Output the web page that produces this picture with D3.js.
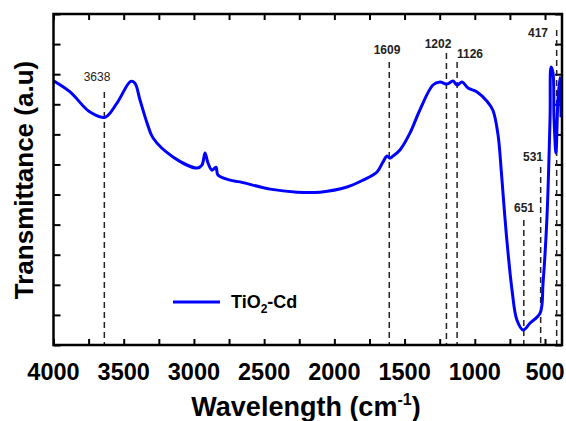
<!DOCTYPE html>
<html lang="en">
<head>
    <meta charset="UTF-8">
    <title>FTIR TiO2-Cd</title>
    <style>
        body { margin: 0; background: #fff; }
        text { font-family: Arial, "Liberation Sans", sans-serif; }
    </style>
</head>
<body>
    <div id="chart"></div>
    <script src="https://d3js.org/d3.v7.min.js"></script>
    <script>
        // spectrum (wavenumber in cm-1, transmittance in a.u.)
        var wavenumbers = [4000, 3882, 3740, 3633, 3548, 3450, 3420, 3384, 3334, 3291, 3149, 2978, 2943, 2921,
            2900, 2871, 2843, 2829, 2743, 2672, 2458, 2266, 2102, 1910, 1796, 1696, 1654, 1625, 1604, 1590,
            1533, 1462, 1391, 1298, 1248, 1198, 1155, 1127, 1091, 1048, 984, 913, 871, 835, 810, 790, 770,
            735, 700, 656, 606, 535, 514, 486, 464, 457, 443, 436, 422, 408, 393, 386];
        var transmittance = [87.8, 84.1, 77.4, 75.7, 80.4, 87.6, 87.0, 81.4, 73.8, 68.8, 62.5, 58.8, 59.8, 63.8,
            60.5, 58.1, 59.1, 56.5, 54.8, 54.2, 51.8, 50.8, 50.8, 52.5, 54.8, 57.5, 60.8, 62.8, 62.1, 62.5,
            64.8, 70.4, 78.1, 86.4, 87.4, 86.7, 87.7, 86.4, 87.4, 85.4, 84.1, 81.0, 78.0, 70.0, 57.0, 45.0, 34.0,
            18.3, 8.3, 5.0, 7.3, 10.6, 20.6, 42.5, 75.7, 92.4, 90.4, 75.7, 63.8, 81.4, 89.0, 75.7];

        // marked bands
        var bands = [3638, 1609, 1202, 1126, 651, 531, 417];
        var bandTop = [92, 62, 53, 62, 220, 167, 30];       // page y where each dashed line starts
        var xTickLabels = [4000, 3500, 3000, 2500, 2000, 1500, 1000, 500];

        var W = 566, H = 421;
        var margin = {top: 14, right: 4, bottom: 76, left: 53.5},
            width = W - margin.left - margin.right,
            height = H - margin.top - margin.bottom;

        var svg = d3.select('#chart').append('svg')
            .attr('width', W).attr('height', H)
            .append('g')
            .attr('transform', 'translate(' + margin.left + ',' + margin.top + ')');

        var x = d3.scaleLinear().domain([4000, 379]).range([0, width]);
        var y = d3.scaleLinear().domain([0, 110]).range([height, 0]);

        var minorX = d3.range(4000, 379, -250);
        var yTicks = d3.range(0, 111, 10);

        // inward ticks on all four sides
        svg.append('g').attr('transform', 'translate(0,' + height + ')')
            .call(d3.axisBottom(x).tickValues(minorX).tickSize(-6).tickFormat(''));
        svg.append('g')
            .call(d3.axisTop(x).tickValues(minorX).tickSize(-6).tickFormat(''));
        svg.append('g')
            .call(d3.axisLeft(y).tickValues(yTicks).tickSize(-7).tickFormat(''));
        svg.append('g').attr('transform', 'translate(' + width + ',0)')
            .call(d3.axisRight(y).tickValues(yTicks).tickSize(-7).tickFormat(''));
        svg.selectAll('.domain').remove();
        svg.selectAll('.tick line').attr('stroke', '#000').attr('stroke-width', 2);

        // tick labels
        svg.append('g').selectAll('text')
            .data(xTickLabels).enter().append('text')
            .attr('x', d => x(d))
            .attr('y', 380 - margin.top)
            .attr('text-anchor', 'middle')
            .style('font-size', '23.5px').style('font-weight', 'bold')
            .text(d => d);

        // dashed band markers
        svg.append('g').selectAll('line')
            .data(bands).enter().append('line')
            .attr('x1', d => x(d)).attr('x2', d => x(d))
            .attr('y1', (d, i) => bandTop[i] - margin.top)
            .attr('y2', height)
            .attr('stroke', '#222').attr('stroke-width', 1.5)
            .attr('stroke-dasharray', '6,4');

        var bandLabels = [
            {t: '3638', cx: 97, by: 81, bold: false},
            {t: '1609', cx: 387, by: 54, bold: true},
            {t: '1202', cx: 438, by: 48, bold: true},
            {t: '1126', cx: 470, by: 58, bold: true},
            {t: '651', cx: 524, by: 212, bold: true},
            {t: '531', cx: 533, by: 161, bold: true},
            {t: '417', cx: 538, by: 37, bold: true}
        ];
        svg.append('g').selectAll('text')
            .data(bandLabels).enter().append('text')
            .attr('x', d => d.cx - margin.left)
            .attr('y', d => d.by - margin.top)
            .attr('text-anchor', 'middle')
            .style('font-size', '12px')
            .style('font-weight', d => d.bold ? 'bold' : 'normal')
            .attr('fill', '#222')
            .text(d => d.t);

        // spectrum
        var data = wavenumbers.map((w, i) => ({w: w, t: transmittance[i]}));
        svg.append('clipPath').attr('id', 'clip')
            .append('rect').attr('width', width).attr('height', height);
        svg.append('path')
            .datum(data)
            .attr('clip-path', 'url(#clip)')
            .attr('fill', 'none')
            .attr('stroke', '#0000ff')
            .attr('stroke-width', 3)
            .attr('stroke-linejoin', 'round')
            .attr('d', d3.line().x(d => x(d.w)).y(d => y(d.t)).curve(d3.curveCatmullRom));

        // frame
        svg.append('rect')
            .attr('width', width).attr('height', height)
            .attr('fill', 'none').attr('stroke', '#000').attr('stroke-width', 2.5);

        // legend
        var legend = svg.append('g').attr('transform', 'translate(' + (173 - margin.left) + ',' + (302 - margin.top) + ')');
        legend.append('line').attr('x1', 0).attr('x2', 47)
            .attr('stroke', '#0000ff').attr('stroke-width', 3);
        var lt = legend.append('text').attr('x', 58).attr('y', 6)
            .style('font-size', '18px').style('font-weight', 'bold');
        lt.append('tspan').text('TiO');
        lt.append('tspan').attr('dy', 5).style('font-size', '12px').text('2');
        lt.append('tspan').attr('dy', -5).text('-Cd');

        // axis titles
        var xl = svg.append('text')
            .attr('x', 306 - margin.left)
            .attr('y', 416 - margin.top)
            .attr('text-anchor', 'middle')
            .style('font-size', '27px').style('font-weight', 'bold');
        xl.append('tspan').text('Wavelength (cm');
        xl.append('tspan').attr('dy', -11).style('font-size', '16px').text('-1');
        xl.append('tspan').attr('dy', 11).text(')');

        svg.append('text')
            .attr('transform', 'translate(' + (33 - margin.left) + ',' + (180 - margin.top) + ') rotate(-90)')
            .attr('text-anchor', 'middle')
            .style('font-size', '26px').style('font-weight', 'bold')
            .text('Transmittance (a.u)');
    </script>
</body>
</html>
